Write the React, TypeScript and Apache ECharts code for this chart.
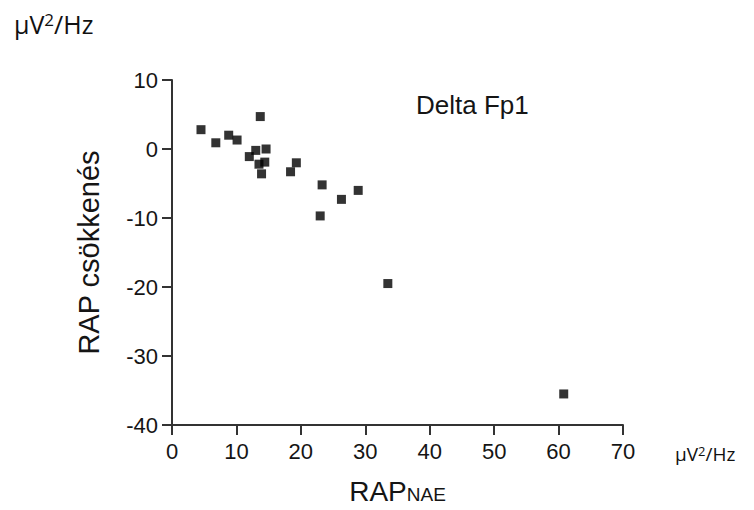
import React, { useEffect, useRef } from "react";
import * as echarts from "echarts";

const xValues = [4.5, 6.8, 8.8, 10.1, 12.0, 13.0, 13.7, 14.6, 13.5, 14.4, 13.9, 18.4, 19.3, 23.3, 23.0, 26.3, 28.9, 33.5, 60.8];
const yValues = [2.8, 0.9, 2.0, 1.3, -1.1, -0.2, 4.7, 0.0, -2.2, -1.9, -3.6, -3.3, -2.0, -5.2, -9.7, -7.3, -6.0, -19.5, -35.5];
const xTicks = { min: 0, max: 70, interval: 10 };
const yTicks = { min: -40, max: 10, interval: 10 };
const titleText = "Delta Fp1";
const yName = "RAP csökkenés";

const ARIAL = "'Liberation Sans', Arial, sans-serif";
const UNIT_FONT = "'Open Sans', 'Noto Sans', sans-serif";

export default function App() {
  const ref = useRef<HTMLDivElement>(null);
  useEffect(() => {
    if (!ref.current) return;
    const chart = echarts.init(ref.current, null, { renderer: "svg" });
    const data = xValues.map((x, i) => [x, yValues[i]]);
    const axisFont = { fontFamily: ARIAL, fontSize: 22, color: "#151515" };
    const lineCol = "#333333";
    const tickStyle = { show: true, inside: false, length: 10, lineStyle: { color: lineCol, width: 2, opacity: 1 } };
    const unitRich = (size: number) => ({
      u: { fontFamily: UNIT_FONT, fontSize: size, fill: "#111" },
      s: { fontFamily: UNIT_FONT, fontSize: Math.round(size * 0.66), fill: "#111", verticalAlign: "top" },
    });
    chart.setOption({
      animation: false,
      backgroundColor: "#ffffff",
      grid: { left: 172, right: 131, top: 80, bottom: 81, containLabel: false },
      xAxis: {
        type: "value",
        min: xTicks.min,
        max: xTicks.max,
        interval: xTicks.interval,
        splitLine: { show: false },
        axisLine: { show: true, onZero: false, lineStyle: { color: lineCol, width: 2 } },
        axisTick: tickStyle,
        axisLabel: { ...axisFont, margin: 15 },
        name: "{a|RAP}{b|NAE}",
        nameLocation: "middle",
        nameGap: 52,
        nameTextStyle: {
          rich: {
            a: { fontFamily: ARIAL, fontSize: 28, color: "#151515", verticalAlign: "bottom" },
            b: { fontFamily: ARIAL, fontSize: 19, color: "#151515", verticalAlign: "bottom", padding: [0, 0, 1, 0] },
          },
        },
      },
      yAxis: {
        type: "value",
        min: yTicks.min,
        max: yTicks.max,
        interval: yTicks.interval,
        splitLine: { show: false },
        axisLine: { show: true, onZero: false, lineStyle: { color: lineCol, width: 2 } },
        axisTick: tickStyle,
        axisLabel: { ...axisFont, margin: 14 },
        name: yName,
        nameLocation: "middle",
        nameGap: 69,
        nameTextStyle: { fontFamily: ARIAL, fontSize: 29, color: "#151515" },
      },
      series: [
        {
          type: "scatter",
          data,
          symbol: "rect",
          symbolSize: 9,
          itemStyle: { color: "#000" },
        },
      ],
      graphic: [
        {
          type: "text",
          left: 416,
          top: 92,
          style: { text: titleText, fontFamily: ARIAL, fontSize: 26, fill: "#151515" },
        },
        {
          type: "text",
          left: 14,
          top: 11,
          style: { text: "{u|μV}{s|2}{u|/Hz}", rich: unitRich(25) },
        },
        {
          type: "text",
          left: 675,
          top: 444,
          style: { text: "{u|μV}{s|2}{u|/Hz}", rich: unitRich(19) },
        },
      ],
    });
    return () => chart.dispose();
  }, []);
  return <div ref={ref} style={{ width: 754, height: 510, position: "absolute", left: 0, top: 0 }} />;
}
